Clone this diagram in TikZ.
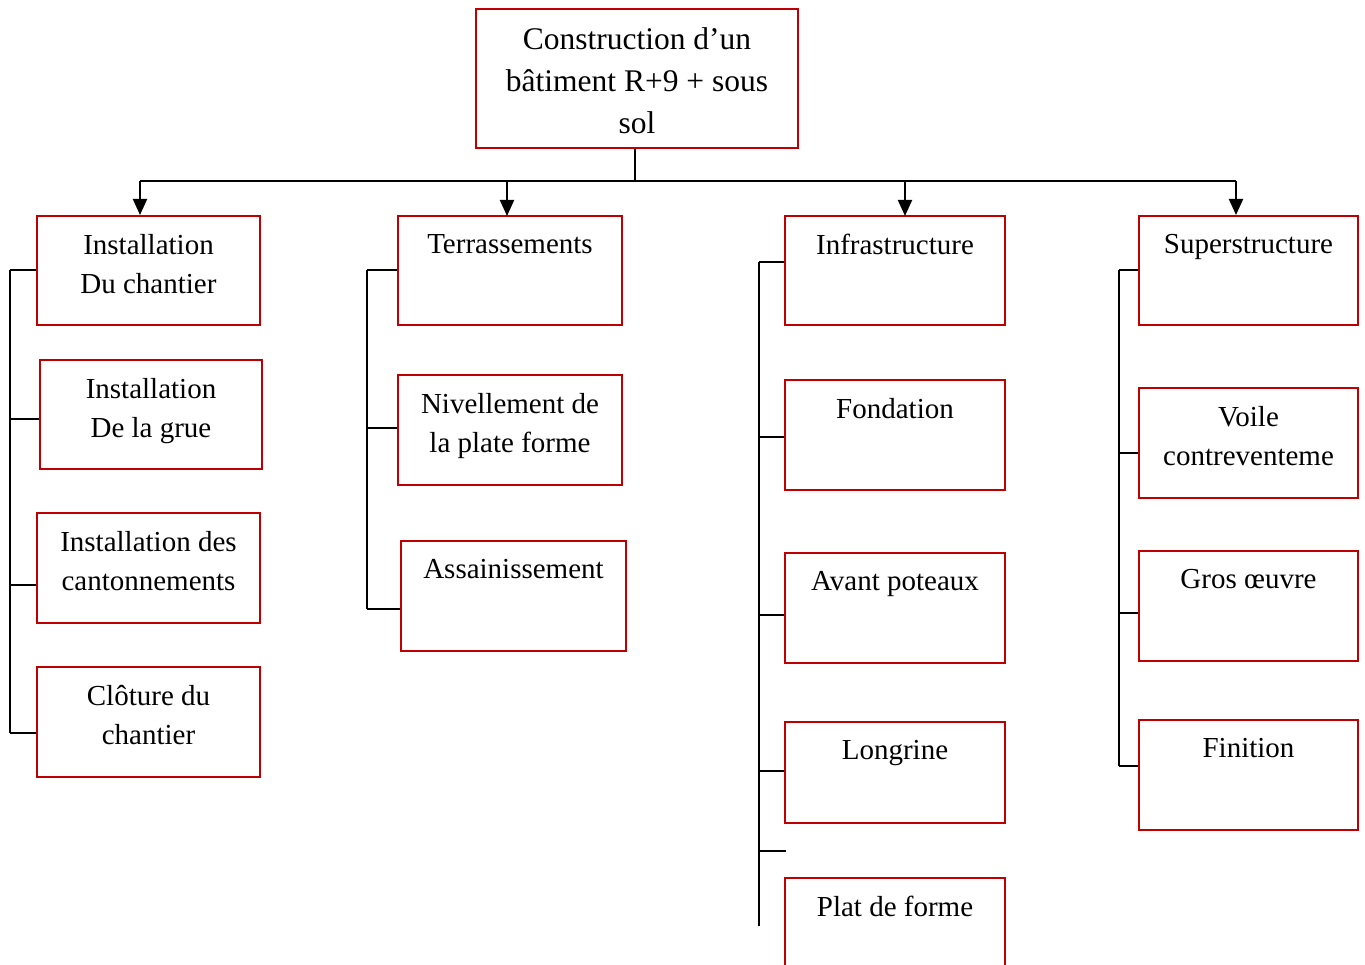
\documentclass[tikz,border=0pt]{standalone}
\usepackage{fontspec}
\setmainfont{Liberation Serif}
\usetikzlibrary{arrows.meta}
\definecolor{boxred}{RGB}{192,0,0}

% Work breakdown box: name, x1, y1, x2, y2, label (label sits near the top edge)
\newcommand\wbsbox[6]{%
  \node[wbs, minimum width={(#4-#2)*1pt}, minimum height={(#5-#3)*1pt}]
    (#1) at ({(#2+#4)/2},{(#3+#5)/2}) {};
  \node[lbl] (#1-t) at ({(#2+#4)/2},{#3+18}) {#6};%
}

\begin{document}
\begin{tikzpicture}[x=1pt,y=-1pt,
  wbs/.style={draw=boxred, line width=2pt, rectangle, inner sep=0pt},
  lbl/.style={anchor=north, align=center, inner sep=0pt,
              font=\fontsize{29}{39.5}\selectfont},
  toplbl/.style={anchor=north, align=center, inner sep=0pt,
              font=\fontsize{31.5}{42}\selectfont},
  link/.style={line width=2pt, black},
  down/.style={link, -{Triangle[length=16pt,width=14pt]}}]

\useasboundingbox (0,0) rectangle (1365,965);
\clip (0,0) rectangle (1365,965);

% Root
\node[wbs, minimum width=322pt, minimum height=139pt] (root) at (637,78.5) {};
\node[toplbl] (root-t) at (637,27) {Construction d’un\\bâtiment R+9 + sous\\sol};

% Column 1: installation
\wbsbox{c1a}{37}{216}{260}{325}{Installation\\Du chantier}
\wbsbox{c1b}{40}{360}{262}{469}{Installation\\De la grue}
\wbsbox{c1c}{37}{513}{260}{623}{Installation des\\cantonnements}
\wbsbox{c1d}{37}{667}{260}{777}{Clôture du\\chantier}

% Column 2: earthworks
\wbsbox{c2a}{398}{216}{622}{325}{Terrassements}
\wbsbox{c2b}{398}{375}{622}{485}{Nivellement de\\la plate forme}
\wbsbox{c2c}{401}{541}{626}{651}{Assainissement}

% Column 3: substructure
\wbsbox{c3a}{785}{216}{1005}{325}{Infrastructure}
\wbsbox{c3b}{785}{380}{1005}{490}{Fondation}
\wbsbox{c3c}{785}{553}{1005}{663}{Avant poteaux}
\wbsbox{c3d}{785}{722}{1005}{823}{Longrine}
\wbsbox{c3e}{785}{878}{1005}{990}{Plat de forme}

% Column 4: superstructure
\wbsbox{c4a}{1139}{216}{1358}{325}{Superstructure}
\wbsbox{c4b}{1139}{388}{1358}{498}{Voile\\contreventeme}
\wbsbox{c4c}{1139}{551}{1358}{661}{Gros œuvre}
\wbsbox{c4d}{1139}{720}{1358}{830}{Finition}

% Distribution bar from the root to the four branches
\coordinate (bar) at (635,181);
\coordinate (barL) at (140,181);
\coordinate (barR) at (1236,181);
\draw[link] (root.south -| bar) -- (bar);
\draw[link] (barL) -- (barR);
\draw[down] (barL) -- (barL |- c1a.north);
\draw[down] (507,181) -- (507,216);
\draw[down] (905,181) -- (905,216);
\draw[down] (barR) -- (barR |- c4a.north);

% Column 1 spine
\coordinate (s1t) at (10,270);
\coordinate (s1b) at (10,733);
\draw[link] (s1t) -- (s1b);
\draw[link] (s1t) -- (s1t -| c1a.west);
\draw[link] (10,419) -- (10,419 -| c1b.west);
\draw[link] (10,585) -- (10,585 -| c1c.west);
\draw[link] (s1b) -- (s1b -| c1d.west);

% Column 2 spine
\coordinate (s2t) at (367,270);
\coordinate (s2b) at (367,609);
\draw[link] (s2t) -- (s2b);
\draw[link] (s2t) -- (s2t -| c2a.west);
\draw[link] (367,428) -- (367,428 -| c2b.west);
\draw[link] (s2b) -- (s2b -| c2c.west);

% Column 3 spine
\coordinate (s3t) at (759,262);
\coordinate (s3b) at (759,926);
\coordinate (s3x) at (786,851);
\draw[link] (s3t) -- (s3b);
\draw[link] (s3t) -- (s3t -| c3a.west);
\draw[link] (759,437) -- (759,437 -| c3b.west);
\draw[link] (759,615) -- (759,615 -| c3c.west);
\draw[link] (759,771) -- (759,771 -| c3d.west);
\draw[link] (759,851) -- (s3x);

% Column 4 spine
\coordinate (s4t) at (1119,270);
\coordinate (s4b) at (1119,766);
\draw[link] (s4t) -- (s4b);
\draw[link] (s4t) -- (s4t -| c4a.west);
\draw[link] (1119,453) -- (1119,453 -| c4b.west);
\draw[link] (1119,613) -- (1119,613 -| c4c.west);
\draw[link] (s4b) -- (s4b -| c4d.west);
\end{tikzpicture}
\end{document}
